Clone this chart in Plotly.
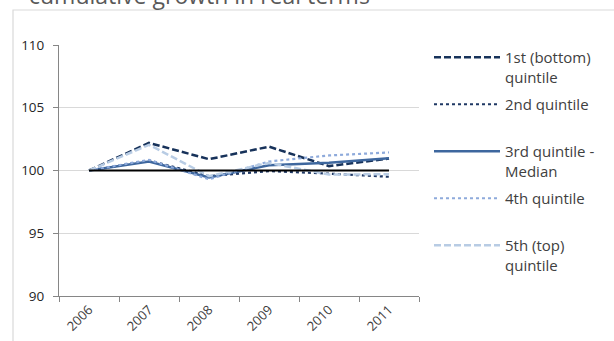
import plotly.graph_objects as go

years = ["2006", "2007", "2008", "2009", "2010", "2011"]

q1_bottom = [100.0, 102.2, 100.9, 101.9, 100.35, 100.95]
q2 = [100.0, 100.8, 99.55, 99.95, 99.75, 99.5]
q3_median = [100.0, 100.72, 99.45, 100.42, 100.62, 100.98]
q4 = [100.0, 100.85, 99.3, 100.72, 101.2, 101.44]
q5_top = [100.0, 102.05, 99.55, 100.6, 99.68, 99.7]
baseline = [100, 100, 100, 100, 100, 100]

names = [
    "1st (bottom)<br>quintile",
    "2nd quintile<br> ",
    "3rd quintile -<br>Median",
    "4th quintile<br> ",
    "5th (top)<br>quintile",
]
series = [q1_bottom, q2, q3_median, q4, q5_top]
colors = ["#17325a", "#1f3864", "#3e679e", "#8eaadb", "#b8cce4"]
dashes = ["7px,3px", "dot", "solid", "dot", "7px,3px"]
widths = [2.5, 2.2, 2.5, 2.2, 2.5]

fig = go.Figure()
for i, (nm, ys) in enumerate(zip(names, series)):
    fig.add_trace(go.Scatter(
        x=years, y=ys, name=nm, mode="lines",
        line=dict(color=colors[i], dash=dashes[i], width=widths[i]),
        legendgroup=f"g{i}",
    ))

fig.add_trace(go.Scatter(
    x=years, y=baseline, mode="lines", showlegend=False,
    line=dict(color="#000000", width=2), hoverinfo="skip",
))

font_family = "Open Sans, Noto Sans, DejaVu Sans, sans-serif"

fig.update_layout(
    width=614, height=341,
    margin=dict(l=59, r=195, t=45, b=45, autoexpand=False),
    paper_bgcolor="white", plot_bgcolor="white",
    font=dict(family=font_family, size=12, color="#404040"),
    showlegend=True,
    legend=dict(
        x=(429 - 59) / 360, xanchor="left", y=1.016, yanchor="top",
        font=dict(size=15, color="#404040"),
        itemwidth=66, valign="top", tracegroupgap=5,
        bgcolor="rgba(0,0,0,0)", maxheight=330,
    ),
    xaxis=dict(
        type="category", range=[-0.5, 5.5], automargin=False,
        tickson="boundaries", ticks="outside", ticklen=5,
        tickcolor="#868686", showline=True, linecolor="#868686", linewidth=1,
        showgrid=False, tickangle=-45,
        tickfont=dict(size=13, color="#404040"),
    ),
    yaxis=dict(
        range=[90, 110], dtick=5, ticks="outside", ticklen=5, automargin=False,
        tickcolor="#868686", showline=True, linecolor="#868686", linewidth=1,
        showgrid=True, gridcolor="#d9d9d9", gridwidth=1, zeroline=False,
        tickfont=dict(size=13.5, color="#262626"), ticklabelstandoff=6,
    ),
)

# outer chart frame
fig.add_shape(
    type="rect", xref="paper", yref="paper",
    x0=(13 - 59) / 360, x1=1.6, y0=-0.5, y1=(296 - 10) / 251,
    line=dict(color="#d9d9d9", width=1.2), fillcolor="rgba(0,0,0,0)",
    layer="below",
)

fig.add_annotation(
    text="cumulative growth in real terms",
    xref="paper", yref="paper", x=(27 - 59) / 360, y=(296 - 13) / 251,
    xanchor="left", yanchor="bottom", showarrow=False,
    font=dict(family=font_family, size=23, color="#595959"),
)

fig.write_html("out.html")
